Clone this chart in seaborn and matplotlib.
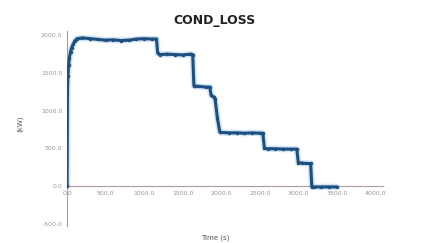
import numpy as np
import pandas as pd
import matplotlib
matplotlib.use("Agg")
import matplotlib.pyplot as plt
import seaborn as sns
from matplotlib.ticker import FormatStrFormatter

# COND_LOSS trace
time_s = [0, 5, 10, 20, 30, 45, 60, 80, 100, 130, 200, 300, 400, 500, 600, 700,
          800, 900, 1000, 1100, 1160, 1175, 1200, 1300, 1400, 1500, 1600, 1630,
          1645, 1660, 1700, 1800, 1850, 1870, 1900, 1920, 1950, 1980, 2000, 2100,
          2200, 2300, 2400, 2500, 2540, 2560, 2600, 2700, 2800, 2900, 2980, 3000,
          3050, 3100, 3160, 3175, 3200, 3300, 3400, 3500]
loss_kw = [0, 1250, 1450, 1600, 1700, 1780, 1830, 1880, 1920, 1950, 1960, 1950,
           1940, 1930, 1935, 1925, 1930, 1945, 1950, 1945, 1945, 1760, 1740, 1745,
           1740, 1735, 1745, 1740, 1330, 1320, 1320, 1310, 1310, 1200, 1180, 1150,
           900, 720, 710, 705, 705, 700, 705, 700, 700, 500, 495, 495, 490, 490,
           490, 310, 305, 300, 300, -10, -10, -10, -10, -10]

x_ticks = [0, 500, 1000, 1500, 2000, 2500, 3000, 3500, 4000]
y_ticks = [-500, 0, 500, 1000, 1500, 2000]

df = pd.DataFrame({"time": time_s, "loss": loss_kw})

sns.set_style("white")
fig = plt.figure(figsize=(4.3, 2.43), dpi=100)
ax = fig.add_axes([0.156, 0.072, 0.735, 0.80])

# faint halo then the dark trace
sns.lineplot(data=df, x="time", y="loss", ax=ax, color="#d3e4f4", lw=4.5, zorder=2)
sns.lineplot(data=df, x="time", y="loss", ax=ax, color="#1d4f7f", lw=2.2,
             marker="o", markersize=2.5, markeredgewidth=0, zorder=3)

ax.set_xlim(0, 4100)
ax.set_ylim(-520, 2050)
ax.set_xticks(x_ticks)
ax.set_yticks(y_ticks)
ax.xaxis.set_major_formatter(FormatStrFormatter("%.1f"))
ax.yaxis.set_major_formatter(FormatStrFormatter("%.1f"))

ax.spines["left"].set_position(("data", 0))
ax.spines["bottom"].set_position(("data", 0))
for side in ["top", "right"]:
    ax.spines[side].set_visible(False)
for side in ["left", "bottom"]:
    ax.spines[side].set_color("#b09a9a")
    ax.spines[side].set_linewidth(0.8)
ax.tick_params(direction="inout", length=3, width=0.8, color="#9a8a8a",
               labelsize=4.5, labelcolor="#999999", pad=2)
ax.set_xlabel("")
ax.set_ylabel("")

fig.text(0.5, 0.915, "COND_LOSS", ha="center", va="center", fontsize=9,
         fontweight="bold", color="#222222")
fig.text(0.5, 0.02, "Time (s)", ha="center", va="center", fontsize=5,
         color="#555555")
fig.text(0.047, 0.49, "(kW)", ha="center", va="center", fontsize=5,
         rotation=90, color="#555555")

fig.savefig("out.png", dpi=100)
